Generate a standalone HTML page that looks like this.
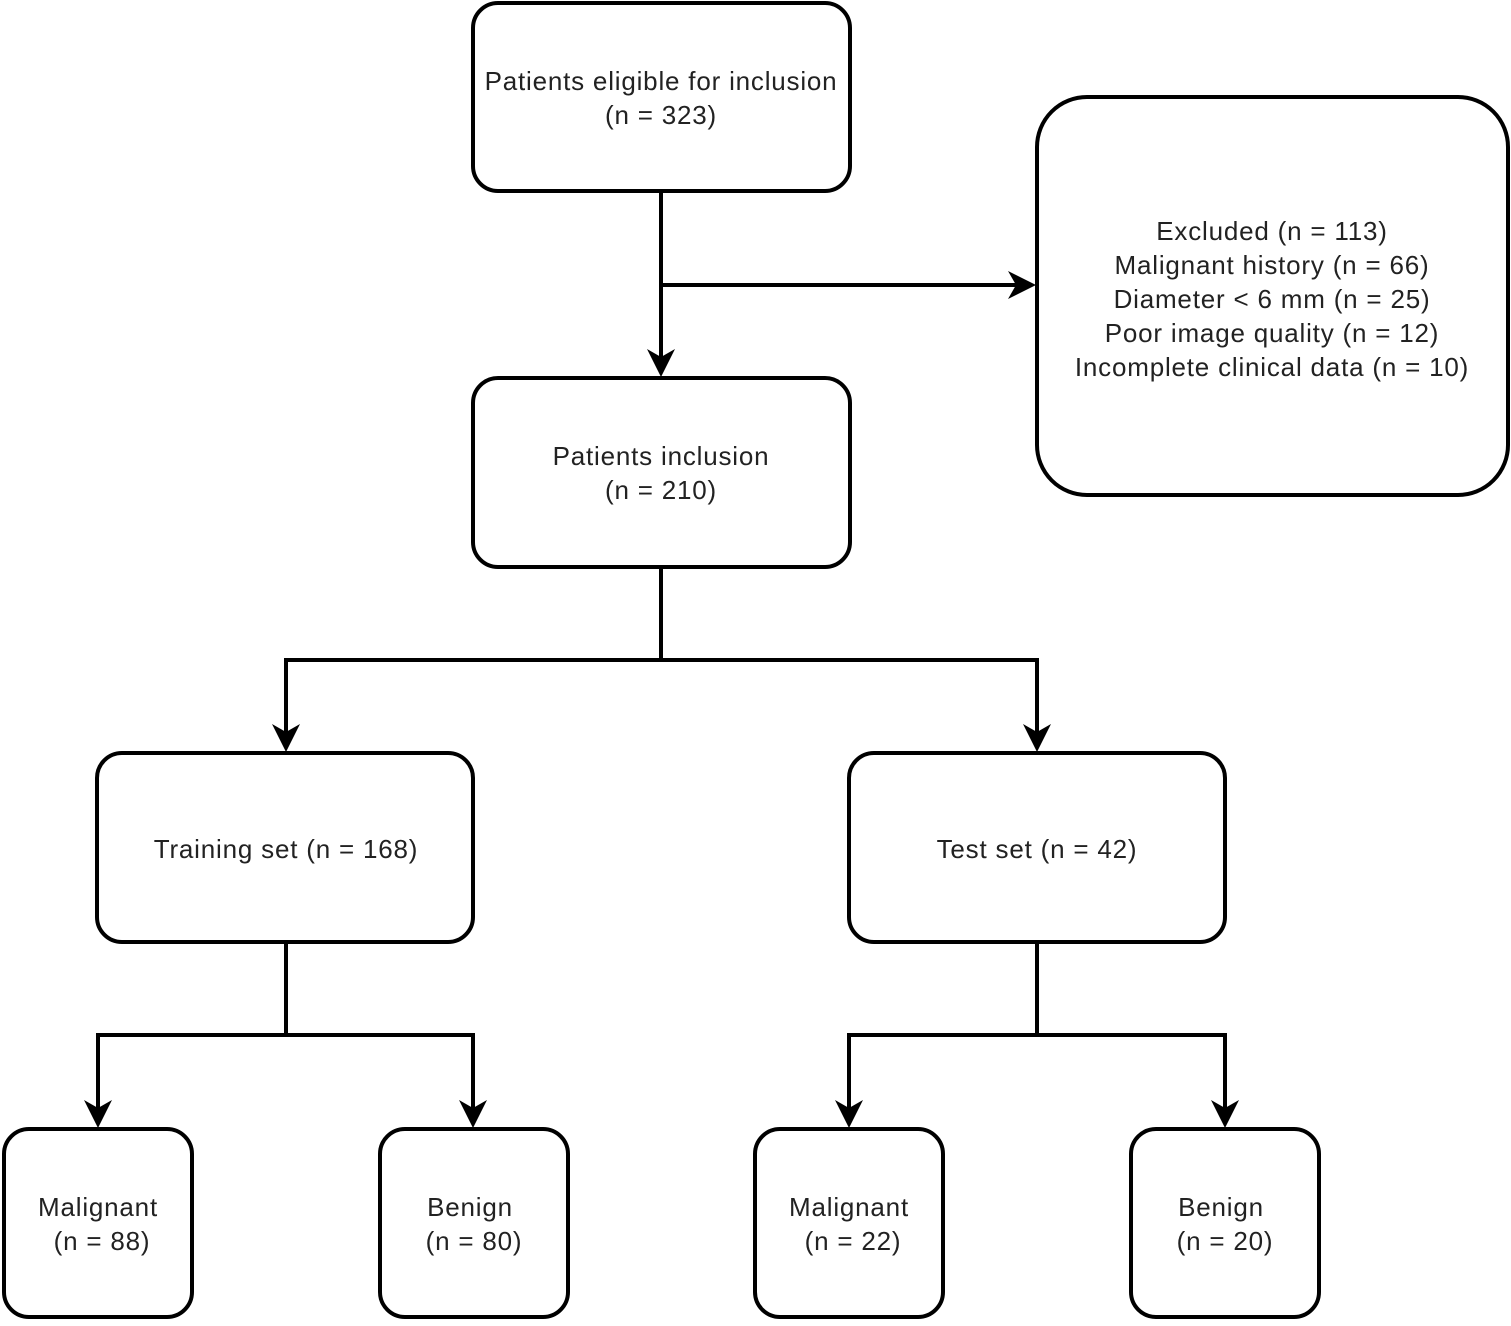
<!DOCTYPE html>
<html><head><style>body{margin:0;background:#fff}</style></head><body>
<svg width="1511" height="1321" xmlns="http://www.w3.org/2000/svg" font-family="Liberation Sans, sans-serif" font-size="26" fill="#222">
<defs>
<path id="ad" d="M0 0 L-14 -28 L0 -20 L14 -28 Z" fill="#000"/>
</defs>
<g fill="none" stroke="#000" stroke-width="4" stroke-linecap="square">
<rect x="473" y="3" width="377" height="188" rx="25"/>
<rect x="1037" y="97" width="471" height="398" rx="50"/>
<rect x="473" y="378" width="377" height="189" rx="25"/>
<rect x="97" y="753" width="376" height="189" rx="25"/>
<rect x="849" y="753" width="376" height="189" rx="25"/>
<rect x="4" y="1129" width="188" height="188" rx="25"/>
<rect x="380" y="1129" width="188" height="188" rx="25"/>
<rect x="755" y="1129" width="188" height="188" rx="25"/>
<rect x="1131" y="1129" width="188" height="188" rx="25"/>
<path d="M661 191V360 M661 285H1020 M661 567V660 M286 660H1037 M286 660V735 M1037 660V735 M286 942V1035 M98 1035H473 M98 1035V1111 M473 1035V1111 M1037 942V1035 M849 1035H1225 M849 1035V1111 M1225 1035V1111"/>
</g>
<use href="#ad" x="661" y="377"/>
<use href="#ad" transform="translate(1036 285) rotate(-90)"/>
<use href="#ad" x="286" y="752"/>
<use href="#ad" x="1037" y="752"/>
<use href="#ad" x="98" y="1128"/>
<use href="#ad" x="473" y="1128"/>
<use href="#ad" x="849" y="1128"/>
<use href="#ad" x="1225" y="1128"/>
<g text-anchor="middle" stroke="none" letter-spacing="0.8">
<text x="661" y="90">Patients eligible for inclusion</text>
<text x="661" y="124">(n = 323)</text>
<text x="1272" y="240">Excluded (n = 113)</text>
<text x="1272" y="274">Malignant history (n = 66)</text>
<text x="1272" y="308">Diameter &lt; 6 mm (n = 25)</text>
<text x="1272" y="342">Poor image quality (n = 12)</text>
<text x="1272" y="376">Incomplete clinical data (n = 10)</text>
<text x="661" y="465">Patients inclusion</text>
<text x="661" y="499">(n = 210)</text>
<text x="286" y="858">Training set (n = 168)</text>
<text x="1037" y="858">Test set (n = 42)</text>
<text x="98" y="1216">Malignant</text>
<text x="102" y="1250">(n = 88)</text>
<text x="470" y="1216">Benign</text>
<text x="474" y="1250">(n = 80)</text>
<text x="849" y="1216">Malignant</text>
<text x="853" y="1250">(n = 22)</text>
<text x="1221" y="1216">Benign</text>
<text x="1225" y="1250">(n = 20)</text>
</g>
</svg>
</body></html>
